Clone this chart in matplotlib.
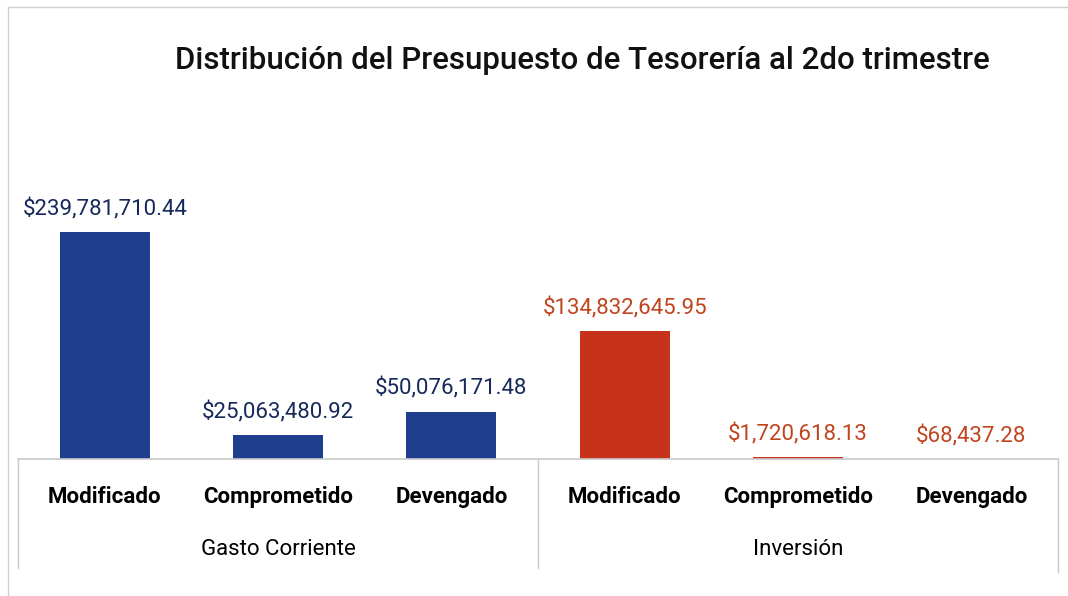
"""
Distribución del Presupuesto de Tesorería al 2do trimestre
"""

import matplotlib
matplotlib.use("Agg")
import matplotlib.pyplot as plt
from matplotlib.lines import Line2D

plt.rcParams["font.family"] = ["Roboto", "DejaVu Sans"]

categorias = ["Modificado", "Comprometido", "Devengado",
              "Modificado", "Comprometido", "Devengado"]
grupos = ["Gasto Corriente", "Inversión"]
valores = [239781710.44, 25063480.92, 50076171.48,
           134832645.95, 1720618.13, 68437.28]
etiquetas = ["$239,781,710.44", "$25,063,480.92", "$50,076,171.48",
             "$134,832,645.95", "$1,720,618.13", "$68,437.28"]

azul = "#1f3f8e"
rojo = "#c7321b"
colores = [azul] * 3 + [rojo] * 3
colores_texto = ["#16295a"] * 3 + ["#c0451f"] * 3

fig = plt.figure(figsize=(10.68, 5.96), dpi=100)
ax = fig.add_axes([18 / 1068, 137 / 596, 1040 / 1068, 359 / 596])

x = list(range(len(valores)))
barras = ax.bar(x, valores, width=0.52, color=colores)

for xi, v, et, c in zip(x, valores, etiquetas, colores_texto):
    ax.annotate(et, (xi, v), xytext=(0, 12), textcoords="offset points",
                ha="center", va="baseline", fontsize=16, color=c)

ax.set_xlim(-0.5, 5.5)
ax.set_ylim(0, 379e6)
ax.axis("off")

# tabla de categorías debajo del eje
tr = ax.get_xaxis_transform()
gris = "#c9c9c9"
ax.plot([-0.5, 5.5], [0, 0], transform=tr, color=gris, lw=1.2, clip_on=False)
for xb, yb in [(-0.5, -0.305), (2.5, -0.305), (5.5, -0.315)]:
    ax.plot([xb, xb], [0, yb], transform=tr, color=gris, lw=1.0, clip_on=False)

for xi, cat in zip(x, categorias):
    ax.text(xi, -0.105, cat, transform=tr, ha="center", va="center",
            fontsize=16, fontweight="bold", color="black")
for i, g in enumerate(grupos):
    ax.text(1 + 3 * i, -0.253, g, transform=tr, ha="center", va="center",
            fontsize=16, color="black")

fig.text(0.5454, 0.898, "Distribución del Presupuesto de Tesorería al 2do trimestre",
         ha="center", va="center", fontsize=22.5, fontweight="medium",
         color="#111111")

# marco exterior
fig.add_artist(Line2D([8 / 1068, 1.0], [1 - 7 / 596, 1 - 7 / 596],
                      transform=fig.transFigure, color="#d0d0d0", lw=1))
fig.add_artist(Line2D([8 / 1068, 8 / 1068], [0.0, 1 - 7 / 596],
                      transform=fig.transFigure, color="#d0d0d0", lw=1))

fig.savefig("out.png", dpi=100, facecolor="white")
